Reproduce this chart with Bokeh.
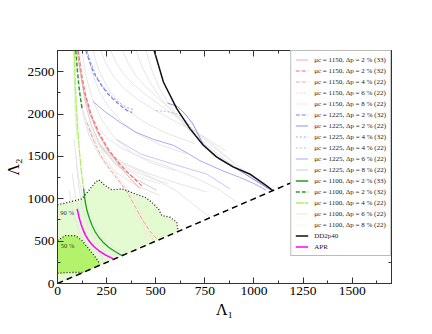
from bokeh.plotting import figure
from bokeh.models import (Range1d, LinearAxis, SingleIntervalTicker, Legend, LegendItem,
                          CustomLabelingPolicy)
from bokeh.core.properties import value
from bokeh.embed import file_html
from bokeh.resources import INLINE

FONT = "Liberation Serif"

# ---------------- data ----------------
x_ticks_step = 250
y_ticks_step = 500

# 90 % credible region (boundary above the diagonal)
r90_x = [0, 0, 57, 125, 159, 193, 210, 243, 277, 328, 353, 395, 446, 480, 514, 531, 573, 607, 612, 0]
r90_y = [0, 928, 959, 999, 1097, 1195, 1223, 1156, 1105, 1117, 1097, 1057, 1018, 959, 881, 802, 782, 723, 612, 0]
# 50 % credible region
r50_x = [0, 0, 41, 91, 125, 159, 193, 215, 222, 130, 80, 40, 0]
r50_y = [120, 510, 566, 566, 507, 409, 310, 240, 222, 130, 130, 128, 120]

# dotted boundaries
b90_x = [0, 57, 125, 159, 193, 210, 243, 277, 328, 353, 395, 446, 480, 514, 531, 573, 607, 612]
b90_y = [928, 959, 999, 1097, 1195, 1223, 1156, 1105, 1117, 1097, 1057, 1018, 959, 881, 802, 782, 723, 640]
b50_x = [0, 41, 91, 125, 159, 193, 215]
b50_y = [510, 566, 566, 507, 409, 310, 235]
b50low_x = [0, 40, 80, 130]
b50low_y = [120, 128, 130, 130]

# Lambda2 = Lambda1 line
diag_x = [0, 1210]
diag_y = [0, 1210]

# background (grey) curves
gray_x = [
    [110, 125, 150, 190, 250, 330, 420, 520],
    [125, 145, 175, 220, 290, 380, 480, 600],
    [150, 175, 210, 260, 330, 420, 530, 660],
    [180, 210, 250, 300, 370, 460, 570, 700],
    [220, 250, 290, 340, 410, 500, 610, 740, 860],
    [270, 300, 340, 390, 460, 550, 650, 770, 900],
    [330, 360, 400, 450, 520, 600, 700, 820, 950, 1050],
    [400, 430, 470, 520, 590, 670, 760, 870, 980, 1070],
    [450, 480, 520, 570, 640, 720, 810, 910, 1010, 1080],
    [110, 130, 160, 210, 290, 400, 520],
    [120, 150, 190, 250, 340, 460, 600, 760],
    [140, 180, 240, 330, 450, 600, 775],
    [200, 260, 340, 440, 560, 700, 830, 911],
    [95, 105, 125, 160, 210, 270],
    [75, 90, 115, 150, 200, 250],
    [85, 100, 125, 165, 220, 300, 360],
    [230, 300, 380, 470, 560],
    [60, 75, 95, 120, 160, 230, 335],
]
gray_y = [
    [2750, 2450, 2150, 1850, 1580, 1380, 1250, 1180],
    [2750, 2450, 2200, 1950, 1720, 1540, 1420, 1330],
    [2750, 2500, 2280, 2080, 1900, 1750, 1630, 1530],
    [2750, 2520, 2330, 2170, 2020, 1880, 1760, 1650],
    [2750, 2580, 2430, 2300, 2170, 2040, 1900, 1740, 1560],
    [2750, 2600, 2460, 2340, 2210, 2060, 1890, 1680, 1420],
    [2750, 2600, 2450, 2320, 2170, 2000, 1790, 1560, 1330, 1160],
    [2750, 2560, 2380, 2200, 2010, 1820, 1630, 1430, 1250, 1120],
    [2750, 2520, 2300, 2100, 1880, 1690, 1520, 1370, 1230, 1120],
    [2300, 2000, 1750, 1520, 1320, 1160, 1040],
    [2100, 1900, 1720, 1560, 1420, 1300, 1190, 1080],
    [1900, 1700, 1550, 1420, 1290, 1100, 782],
    [1850, 1700, 1580, 1480, 1380, 1250, 1100, 959],
    [1500, 1200, 900, 650, 450, 300],
    [1300, 1050, 780, 560, 380, 260],
    [1700, 1350, 1050, 780, 560, 400, 370],
    [1600, 1450, 1330, 1250, 1180],
    [1100, 900, 720, 560, 430, 340, 345],
]
dgray_x = [120, 140, 170, 220, 300, 400, 505]
dgray_y = [2450, 2150, 1880, 1620, 1400, 1230, 1100]

# mu_c = 1150 series
m1150_2_33_x = [100, 115, 135, 165, 205, 255, 315, 370, 420]
m1150_2_33_y = [2750, 2500, 2250, 2000, 1780, 1580, 1390, 1240, 1120]
m1150_2_32_x = [105, 120, 140, 170, 210, 260, 320, 380, 430]
m1150_2_32_y = [2750, 2500, 2250, 2000, 1780, 1580, 1400, 1260, 1150]
m1150_4_22_x = [150, 190, 240, 300, 350, 390, 430, 470, 510]
m1150_4_22_y = [1900, 1650, 1430, 1250, 1100, 930, 760, 620, 515]
m1150_6_22_x = [170, 210, 260, 320, 370, 410, 450, 490]
m1150_6_22_y = [1800, 1550, 1350, 1180, 1020, 850, 680, 500]
m1150_8_22_x = [200, 250, 310, 370, 420, 460]
m1150_8_22_y = [1700, 1450, 1250, 1080, 880, 470]

# mu_c = 1225 series
m1225_2_32_x = [144, 160, 185, 220, 255, 290, 325, 355, 380]
m1225_2_32_y = [2750, 2640, 2480, 2350, 2240, 2160, 2090, 2040, 2020]
m1225_2_22_x = [560, 610, 650, 690, 740, 820, 950, 1080]
m1225_2_22_y = [2130, 2090, 2000, 1880, 1650, 1470, 1300, 1110]
m1225_4_32_x = [150, 170, 195, 230, 270, 310, 350, 390]
m1225_4_32_y = [2750, 2610, 2460, 2330, 2220, 2140, 2080, 2050]
m1225_4_22_x = [500, 560, 610, 650, 690, 720]
m1225_4_22_y = [2040, 2030, 2000, 1930, 1800, 1700]
m1225_6_22_x = [180, 243, 320, 395, 490, 590, 660, 725, 830, 927, 1000, 1063]
m1225_6_22_y = [2150, 2025, 1900, 1789, 1700, 1631, 1540, 1450, 1340, 1253, 1180, 1100]
m1225_8_22_x = [300, 422, 600, 759, 877]
m1225_8_22_y = [1700, 1529, 1400, 1293, 1117]

# mu_c = 1100 series
m1100_2_33_x = [133, 140, 150, 162, 176, 192, 210, 235, 260, 295, 328]
m1100_2_33_y = [1120, 980, 861, 770, 684, 610, 546, 480, 428, 375, 330]
m1100_2_32_x = [93, 100, 108, 116, 125]
m1100_2_32_y = [2750, 2550, 2350, 2200, 2064]
m1100_4_22_x = [86, 90, 96, 104, 112, 120, 128, 134]
m1100_4_22_y = [2750, 2400, 2100, 1800, 1550, 1350, 1200, 1100]
m1100_6_22_x = [82, 86, 92, 100]
m1100_6_22_y = [2750, 2400, 2000, 1700]
m1100_8_22_x = [78, 82, 88, 95]
m1100_8_22_y = [2750, 2450, 2100, 1800]

# EOS curves
dd2_x = [492, 539, 607, 674, 742, 809, 894, 978, 1063, 1096]
dd2_y = [2750, 2378, 2064, 1828, 1631, 1494, 1376, 1293, 1156, 1097]
apr_x = [100, 112, 125, 140, 159, 183, 210, 245, 285]
apr_y = [881, 760, 664, 580, 507, 440, 389, 335, 291]

region_labels = ["90 %", "50 %"]
region_label_x = [14, 17]
region_label_y = [840, 450]

# ---------------- figure ----------------
p = figure(width=424, height=326, output_backend="svg", toolbar_location=None,
           x_range=Range1d(0, 1700), y_range=Range1d(0, 2750),
           min_border_left=57, min_border_right=33, min_border_top=50, min_border_bottom=43)
p.grid.visible = False
p.outline_line_color = "#333333"
p.background_fill_color = "white"
p.border_fill_color = "white"

def style_axis(ax, labels=True):
    ax.axis_line_color = "#333333"
    ax.major_tick_line_color = "#333333"
    ax.minor_tick_line_color = "#333333"
    ax.major_tick_in = 6
    ax.major_tick_out = 0
    ax.minor_tick_in = 3
    ax.minor_tick_out = 0
    ax.major_label_text_font = FONT
    ax.major_label_text_font_size = "13.5px"
    ax.major_label_text_color = "black"
    ax.major_label_standoff = 3
    ax.axis_label_text_font = FONT
    ax.axis_label_text_font_size = "16px"
    ax.axis_label_text_font_style = "normal"
    ax.axis_label_text_color = "black"
    ax.axis_label_standoff = 3
    if not labels:
        ax.major_label_policy = CustomLabelingPolicy(code="return false")

p.xaxis.ticker = SingleIntervalTicker(interval=x_ticks_step, num_minor_ticks=2)
p.yaxis.ticker = SingleIntervalTicker(interval=y_ticks_step, num_minor_ticks=2)
p.xaxis.axis_label = "Λ₁"
p.yaxis.axis_label = "Λ₂"
style_axis(p.xaxis[0])
style_axis(p.yaxis[0])

top = LinearAxis(ticker=SingleIntervalTicker(interval=x_ticks_step, num_minor_ticks=2))
right = LinearAxis(ticker=SingleIntervalTicker(interval=y_ticks_step, num_minor_ticks=2))
style_axis(top, labels=False)
style_axis(right, labels=False)
p.add_layout(top, "above")
p.add_layout(right, "right")

# regions
p.patch(r90_x, r90_y, fill_color="#e4fbd2", line_color=None)
p.patch(r50_x, r50_y, fill_color="#b3f36b", line_color=None)

# grey curves
p.multi_line(gray_x, gray_y, line_color="#e6e6e6", line_width=1)
p.line(dgray_x, dgray_y, line_color="#d8d8d8", line_width=1.2)

specs = [
    ("μc = 1150, Δp = 2 % (33)", m1150_2_33_x, m1150_2_33_y, "#f5a9a9", "solid", 1.0),
    ("μc = 1150, Δp = 2 % (32)", m1150_2_32_x, m1150_2_32_y, "#ee7070", "4 2", 1.2),
    ("μc = 1150, Δp = 4 % (22)", m1150_4_22_x, m1150_4_22_y, "#f4a898", "4 2", 1.0),
    ("μc = 1150, Δp = 6 % (22)", m1150_6_22_x, m1150_6_22_y, "#fad2d2", "2 2", 1.0),
    ("μc = 1150, Δp = 8 % (22)", m1150_8_22_x, m1150_8_22_y, "#fde4e4", "solid", 1.0),
    ("μc = 1225, Δp = 2 % (32)", m1225_2_32_x, m1225_2_32_y, "#7f7fee", "4 2", 1.2),
    ("μc = 1225, Δp = 2 % (22)", m1225_2_22_x, m1225_2_22_y, "#9090f0", "solid", 1.0),
    ("μc = 1225, Δp = 4 % (32)", m1225_4_32_x, m1225_4_32_y, "#a0a0f2", "2 2", 1.0),
    ("μc = 1225, Δp = 4 % (22)", m1225_4_22_x, m1225_4_22_y, "#b4b4f5", "2 2", 1.0),
    ("μc = 1225, Δp = 6 % (22)", m1225_6_22_x, m1225_6_22_y, "#aaaaf4", "solid", 1.0),
    ("μc = 1225, Δp = 8 % (22)", m1225_8_22_x, m1225_8_22_y, "#c8c8f8", "solid", 1.0),
    ("μc = 1100, Δp = 2 % (33)", m1100_2_33_x, m1100_2_33_y, "#1e9e1e", "solid", 1.3),
    ("μc = 1100, Δp = 2 % (32)", m1100_2_32_x, m1100_2_32_y, "#2a9a2a", "4 2", 1.5),
    ("μc = 1100, Δp = 4 % (22)", m1100_4_22_x, m1100_4_22_y, "#b4ee66", "8 1", 1.3),
    ("μc = 1100, Δp = 6 % (22)", m1100_6_22_x, m1100_6_22_y, "#d8f5bc", "solid", 1.0),
    ("μc = 1100, Δp = 8 % (22)", m1100_8_22_x, m1100_8_22_y, "#eefbe2", "solid", 1.0),
]
order = [4, 3, 2, 0, 1, 10, 9, 8, 7, 6, 5, 15, 14, 13, 12, 11]
rend = {}
for i in order:
    lab, xs, ys, c, d, w = specs[i]
    rend[i] = p.line(xs, ys, line_color=c, line_dash=d, line_width=w)

for bx, by in [(b90_x, b90_y), (b50_x, b50_y), (b50low_x, b50low_y)]:
    p.line(bx, by, line_color="#222222", line_dash="1 2", line_width=1.3)

p.line(diag_x, diag_y, line_color="black", line_dash="6 4", line_width=1.5)
r_dd2 = p.line(dd2_x, dd2_y, line_color="#111111", line_width=1.5)
r_apr = p.line(apr_x, apr_y, line_color="#ff00ff", line_width=1.5)

p.text(region_label_x, region_label_y, text=region_labels, text_font=value(FONT),
       text_font_size="6.5px", text_color="#333333", text_baseline="middle")

items = [LegendItem(label=s[0], renderers=[rend[i]]) for i, s in enumerate(specs)]
items.append(LegendItem(label="DD2p40", renderers=[r_dd2]))
items.append(LegendItem(label="APR", renderers=[r_apr]))

legend = Legend(items=items, location="top_right", margin=0, padding=4, spacing=2,
                label_text_font=FONT, label_text_font_size="7px", label_text_color="#222222",
                label_height=9, glyph_height=9, glyph_width=13, label_standoff=6,
                border_line_color="#777777", border_line_width=1,
                background_fill_color="white", background_fill_alpha=1.0)
p.add_layout(legend)

open("out.html", "w").write(file_html(p, INLINE))
